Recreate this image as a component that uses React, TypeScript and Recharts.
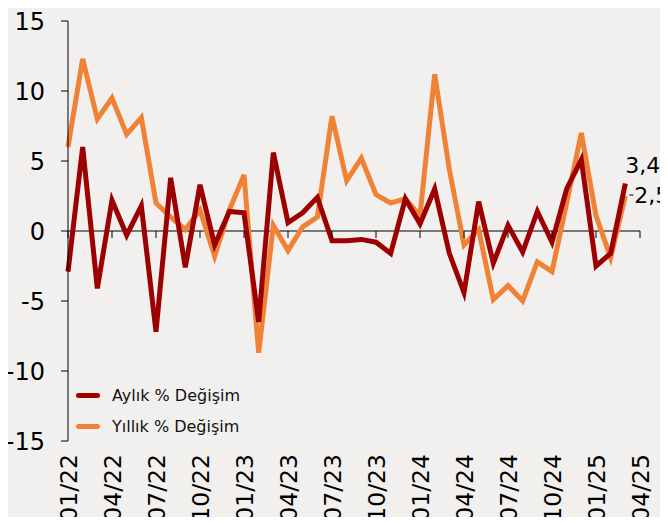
import React from "react";
import {
  LineChart,
  Line,
  XAxis,
  YAxis,
  ReferenceLine,
  ReferenceDot,
  LabelList,
} from "recharts";

const FONT = '"DejaVu Sans", Verdana, sans-serif';
const RED = "#9c0000";
const ORANGE = "#f08236";

const months = [
  "01/22", "02/22", "03/22", "04/22", "05/22", "06/22", "07/22", "08/22", "09/22", "10/22", "11/22", "12/22",
  "01/23", "02/23", "03/23", "04/23", "05/23", "06/23", "07/23", "08/23", "09/23", "10/23", "11/23", "12/23",
  "01/24", "02/24", "03/24", "04/24", "05/24", "06/24", "07/24", "08/24", "09/24", "10/24", "11/24", "12/24",
  "01/25", "02/25", "03/25", "04/25",
];

// Aylık % Değişim
const monthly = [
  -2.9, 6.0, -4.1, 2.2, -0.3, 1.8, -7.2, 3.8, -2.6, 3.3, -1.0, 1.4,
  1.3, -6.5, 5.6, 0.6, 1.3, 2.4, -0.7, -0.7, -0.6, -0.8, -1.6, 2.3,
  0.5, 3.0, -1.6, -4.4, 2.1, -2.3, 0.4, -1.5, 1.4, -0.8, 3.0, 5.1,
  -2.5, -1.6, 3.4, null,
];

// Yıllık % Değişim
const annual = [
  6.0, 12.3, 8.0, 9.5, 6.9, 8.1, 2.0, 1.0, 0.1, 1.5, -1.8, 1.5,
  4.0, -8.7, 0.4, -1.4, 0.3, 1.0, 8.2, 3.6, 5.2, 2.6, 2.0, 2.3,
  1.1, 11.2, 4.4, -1.0, 0.1, -4.9, -3.9, -5.0, -2.2, -2.9, 2.0, 7.0,
  1.1, -1.9, 2.5, null,
];

const yTicks = [-15, -10, -5, 0, 5, 10, 15];
const tickMonths = months.filter((_, i) => i % 3 === 0);
const lastIndex = 38;

const rows = months.map((m, i) => ({ month: m, monthly: monthly[i], annual: annual[i] }));

function MonthTick({ x, y, payload }: any) {
  return (
    <text
      transform={`translate(${x + 8.5},${y + 5}) rotate(-90)`}
      textAnchor="end"
      fill="#000"
      fontSize={23.5}
      fontFamily={FONT}
    >
      {payload.value}
    </text>
  );
}

function EndLabel(dx: number, dy: number, leader: boolean) {
  return (props: any) => {
    const { x, y, index, value } = props;
    if (index !== lastIndex) return null;
    return (
      <g>
        {leader && <line x1={x + 4} y1={y - 1} x2={x + 8} y2={y - 1} stroke="#000" strokeWidth={1} />}
        <text x={x + dx} y={y + dy} fill="#000" fontSize={22} fontFamily={FONT}>
          {String(value).replace(".", ",")}
        </text>
      </g>
    );
  };
}

const legendItems = [
  { label: "Aylık % Değişim", color: RED },
  { label: "Yıllık % Değişim", color: ORANGE },
];

export default function App() {
  return (
    <div
      style={{
        margin: -8,
        width: 668,
        height: 525,
        background: "#f2f0ef",
        position: "relative",
        fontFamily: FONT,
      }}
    >
      <LineChart width={668} height={525} data={rows} margin={{ top: 21, right: 28, bottom: 4, left: 8 }}>
        <YAxis
          domain={[-15, 15]}
          ticks={yTicks}
          width={60}
          axisLine={{ stroke: "#000" }}
          tickLine={{ stroke: "#000" }}
          tickSize={7}
          tickMargin={16}
          tick={{ fill: "#000", fontSize: 24, fontFamily: FONT }}
        />
        <XAxis
          dataKey="month"
          interval={2}
          height={80}
          axisLine={false}
          tickLine={false}
          tick={<MonthTick />}
        />
        <ReferenceLine y={0} stroke="#000" strokeWidth={1} />
        {tickMonths.map((m) => (
          <ReferenceDot
            key={m}
            x={m}
            y={0}
            r={1}
            shape={(p: any) => (
              <line x1={p.cx} y1={p.cy} x2={p.cx} y2={p.cy + 7} stroke="#000" strokeWidth={1} />
            )}
          />
        ))}
        <Line
          dataKey="annual"
          stroke={ORANGE}
          strokeWidth={5}
          dot={false}
          isAnimationActive={false}
          strokeLinejoin="miter"
        >
          <LabelList dataKey="annual" content={EndLabel(9, 7, true)} />
        </Line>
        <Line
          dataKey="monthly"
          stroke={RED}
          strokeWidth={5}
          dot={false}
          isAnimationActive={false}
          strokeLinejoin="miter"
        >
          <LabelList dataKey="monthly" content={EndLabel(0, -10, false)} />
        </Line>
      </LineChart>

      <div style={{ position: "absolute", left: 76, top: 380 }}>
        {legendItems.map((it) => (
          <div key={it.label} style={{ display: "flex", alignItems: "center", height: 31 }}>
            <div style={{ width: 24, height: 5, borderRadius: 3, background: it.color, marginRight: 12 }} />
            <span style={{ fontSize: 16, color: "#111" }}>{it.label}</span>
          </div>
        ))}
      </div>
    </div>
  );
}
